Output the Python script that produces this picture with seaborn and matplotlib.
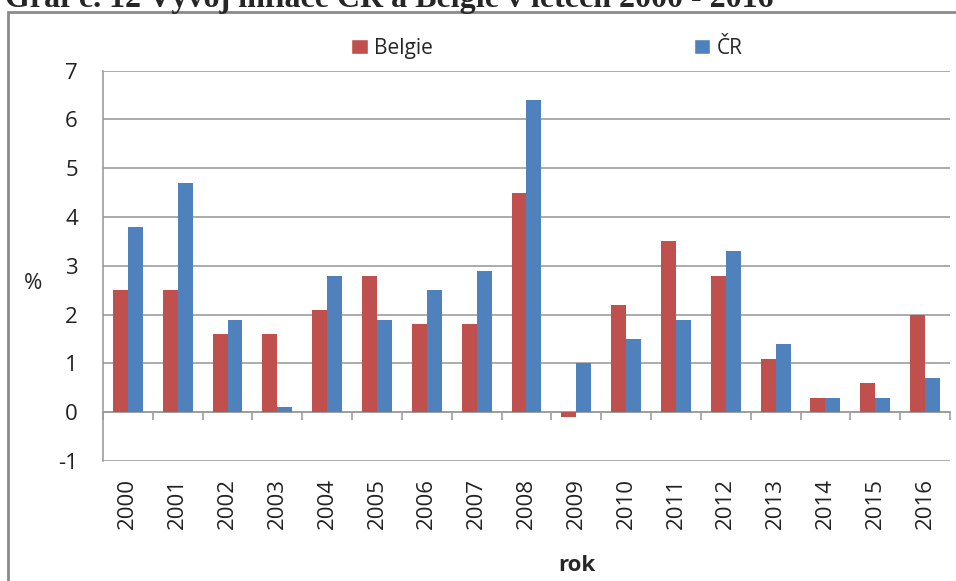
import numpy as np
import pandas as pd
import seaborn as sns
import matplotlib.pyplot as plt
from matplotlib.patches import Rectangle, Patch

# data
roky = ['2000', '2001', '2002', '2003', '2004', '2005', '2006', '2007', '2008',
        '2009', '2010', '2011', '2012', '2013', '2014', '2015', '2016']
belgie = [2.5, 2.5, 1.6, 1.6, 2.1, 2.8, 1.8, 1.8, 4.5, -0.1, 2.2, 3.5, 2.8, 1.1, 0.3, 0.6, 2.0]
cr = [3.8, 4.7, 1.9, 0.1, 2.8, 1.9, 2.5, 2.9, 6.4, 1.0, 1.5, 1.9, 3.3, 1.4, 0.3, 0.3, 0.7]
zeme = ['Belgie', 'ČR']
barvy = ['#C0504D', '#4F81BD']

df = pd.DataFrame({
    'rok': roky * 2,
    'hodnota': belgie + cr,
    'zeme': [zeme[0]] * len(roky) + [zeme[1]] * len(roky),
})

sns.set_style('white')
plt.rcParams['font.family'] = ['Open Sans', 'DejaVu Sans']
plt.rcParams['axes.unicode_minus'] = False

seda = '#9d9d9d'
fig = plt.figure(figsize=(9.56, 5.81), dpi=100)
ax = fig.add_axes([0.1077, 0.2065, 0.886, 0.6718])

sns.barplot(data=df, x='rok', y='hodnota', hue='zeme', palette=barvy,
            width=0.6, saturation=1, ax=ax, legend=False, errorbar=None,
            linewidth=0)

ax.set_ylim(-1, 7)
ax.set_xlim(-0.5, len(roky) - 0.5)
ax.set_yticks(range(-1, 8))
ax.yaxis.grid(True, color=seda, linewidth=1.2)
ax.set_axisbelow(True)
for s in ['top', 'right', 'bottom']:
    ax.spines[s].set_visible(False)
ax.spines['left'].set_color(seda)
ax.spines['left'].set_linewidth(1.2)
ax.tick_params(axis='y', length=7, color=seda, width=1.2, pad=11,
               labelsize=16, labelcolor='#222222')
ax.tick_params(axis='x', length=0, pad=12, labelsize=16, labelrotation=90,
               labelcolor='#222222')

# osa x v nule s carkami mezi roky
sec = ax.secondary_xaxis(0.125)
sec.set_xticks(np.arange(-0.5, len(roky), 1))
sec.set_xticklabels([])
sec.tick_params(length=6, color=seda, width=1.2, direction='out')
sec.spines['bottom'].set_color(seda)
sec.spines['bottom'].set_linewidth(1.2)

ax.set_xlabel('rok', fontsize=16, fontweight='bold', va='center')
ax.xaxis.set_label_coords(0.56, -0.268)
ax.set_ylabel('%', fontsize=16, rotation=0, va='center', ha='center')
ax.yaxis.set_label_coords(-0.083, 0.456)

handles = [Patch(facecolor=c) for c in barvy]
fig.legend(handles, zeme, loc='center', bbox_to_anchor=(0.572, 0.917), ncol=2,
           frameon=False, fontsize=15, handlelength=0.8, handleheight=0.8,
           handletextpad=0.3, columnspacing=12.5)

# ramecek grafu a useknuty nadpis
fig.patches.append(Rectangle((8 / 956, -0.1), 1.2, 1 - 12 / 581 + 0.1,
                             transform=fig.transFigure, fill=False,
                             edgecolor='#8a8a8a', linewidth=2))
fig.text(5 / 956, 1 - 7 / 581, 'Graf č. 12 Vývoj inflace ČR a Belgie v letech 2000 - 2016',
         family=['Liberation Serif', 'DejaVu Serif'], fontweight='bold',
         fontsize=23, va='baseline', ha='left')

fig.savefig('out.png', dpi=100)
